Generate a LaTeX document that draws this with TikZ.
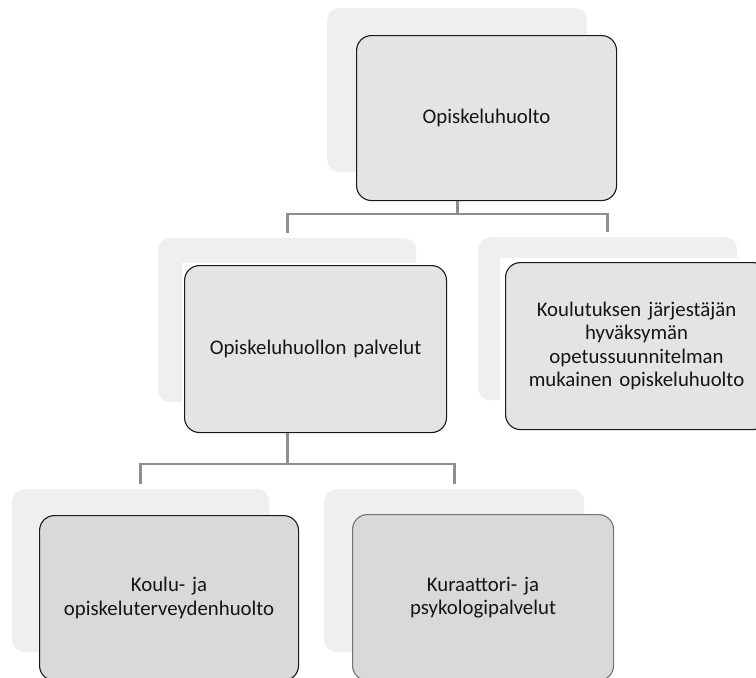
\documentclass[tikz,border=0pt]{standalone}
\usepackage{fontspec}
\setmainfont{Carlito}
\definecolor{bgshade}{HTML}{EFEFEF}
\definecolor{frontfill}{HTML}{E4E4E4}
\definecolor{frontfilldark}{HTML}{D9D9D9}
\definecolor{conncol}{HTML}{8E8E8E}
\definecolor{txtcol}{HTML}{151515}
\tikzset{
  shadowbox/.style={rectangle, rounded corners=12pt, fill=bgshade, draw=none, anchor=north west, inner sep=0pt},
  whitebox/.style={rectangle, fill=white, draw=none, anchor=north west, inner sep=0pt},
  frontbox/.style={rectangle, rounded corners=15pt, fill=frontfill, draw=black!90, line width=1.1pt, anchor=north west, inner sep=4pt, align=center, text=txtcol, font=\fontsize{20.8}{23.4}\selectfont},
  conn/.style={draw=conncol, line width=2.6pt},
}
\begin{document}
\begin{tikzpicture}[x=1pt,y=-1pt]
\useasboundingbox (0,0) rectangle (756,678);
\clip (0,0) rectangle (756,678);
% shadow boxes
\node[shadowbox, minimum width=260pt, minimum height=164pt] (topbg) at (327,8) {};
\node[shadowbox, minimum width=258pt, minimum height=164pt] (midlbg) at (158,238) {};
\node[shadowbox, minimum width=259pt, minimum height=163pt] (midrbg) at (478,237) {};
\node[shadowbox, minimum width=257pt, minimum height=163pt] (botlbg) at (12,489) {};
\node[shadowbox, minimum width=260pt, minimum height=163pt] (botrbg) at (324,489) {};
% white backing
\node[whitebox, minimum width=264pt, minimum height=169pt] (midlw) at (182,263) {};
\node[whitebox, minimum width=267pt, minimum height=171pt] (midrw) at (500,258) {};
% front boxes
\node[frontbox, minimum width=260pt, minimum height=165pt, text width=250pt] (top) at (356,35) {Opiskeluhuolto};
\node[frontbox, minimum width=262pt, minimum height=167pt, text width=252pt] (midl) at (184,265) {Opiskeluhuollon palvelut};
\node[frontbox, minimum width=262pt, minimum height=167pt, text width=252pt] (midr) at (505,262) {Koulutuksen järjestäjän\\hyväksymän\\opetussuunnitelman\\mukainen opiskeluhuolto};
\node[frontbox, fill=frontfilldark, minimum width=259pt, minimum height=165pt, text width=249pt] (botl) at (39,515) {Koulu- ja\\opiskeluterveydenhuolto};
\node[frontbox, fill=frontfilldark, draw=black!55, minimum width=261pt, minimum height=166pt, text width=251pt] (botr) at (352,514) {Kuraattori- ja\\psykologipalvelut};
% connectors
\coordinate (bar1) at (0,214);
\coordinate (bar2) at (0,464);
\draw[conn, shorten >=5pt] (topbg.south |- top.south) -- (topbg.south |- bar1) -| (midlbg.north);
\draw[conn, shorten >=5pt] (topbg.south |- bar1) -| (midrbg.north);
\draw[conn, shorten >=5pt] (midlbg.south |- midl.south) -- (midlbg.south |- bar2) -| (botlbg.north);
\draw[conn, shorten >=5pt] (midlbg.south |- bar2) -| (botrbg.north);
\end{tikzpicture}
\end{document}
